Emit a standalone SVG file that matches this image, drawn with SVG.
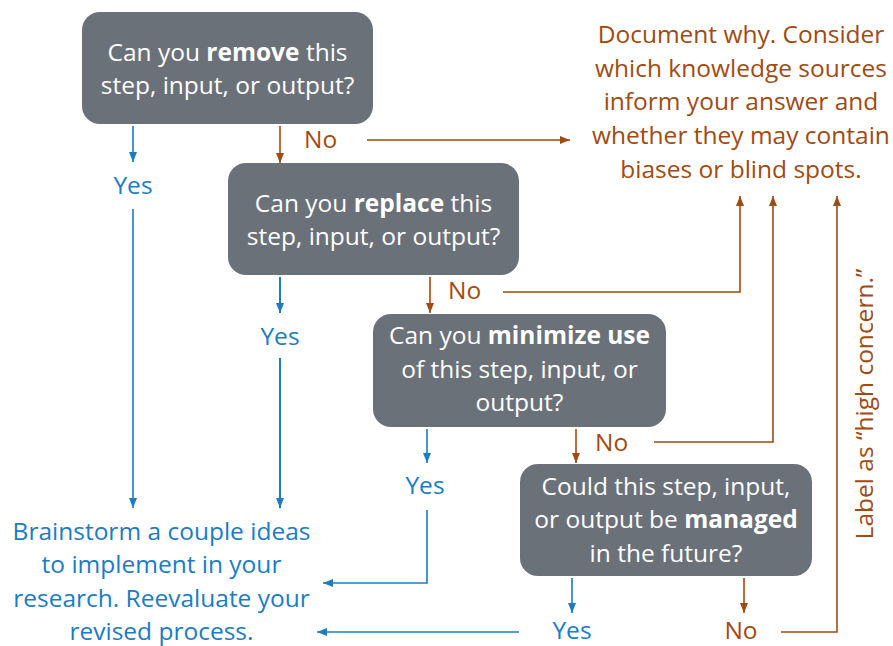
<svg xmlns="http://www.w3.org/2000/svg" width="893" height="646" viewBox="0 0 893 646">
<style>
text{font-family:"Open Sans","Liberation Sans",sans-serif;font-size:24.5px}
.box rect{fill:#6b7179}
.box text{fill:#ffffff;text-anchor:middle}
.b{font-weight:bold}
.br{fill:#a04b12}
.bl{fill:#1c7cc2}
.lb{fill:none;stroke:#a04b12;stroke-width:1.6}
.ll{fill:none;stroke:#1c7cc2;stroke-width:1.6}
.mid{text-anchor:middle}
</style>
<defs>
<marker id="ab" markerUnits="userSpaceOnUse" markerWidth="10" markerHeight="10" viewBox="0 0 10 10" refX="10" refY="5" orient="auto"><path d="M0,1 L10,5 L0,9 Z" fill="#a04b12"/></marker>
<marker id="al" markerUnits="userSpaceOnUse" markerWidth="10" markerHeight="10" viewBox="0 0 10 10" refX="10" refY="5" orient="auto"><path d="M0,1 L10,5 L0,9 Z" fill="#1c7cc2"/></marker>
</defs>

<g id="q1" class="box">
<rect x="82" y="12" width="291" height="112" rx="18"/>
<text x="227.5" y="61">Can you <tspan class="b">remove</tspan> this</text>
<text x="227.5" y="94">step, input, or output?</text>
</g>
<g id="q2" class="box">
<rect x="228" y="163" width="291" height="112" rx="18"/>
<text x="373.5" y="212">Can you <tspan class="b">replace</tspan> this</text>
<text x="373.5" y="245">step, input, or output?</text>
</g>
<g id="q3" class="box">
<rect x="373" y="314" width="293" height="113" rx="18"/>
<text x="519.5" y="344">Can you <tspan class="b">minimize use</tspan></text>
<text x="519.5" y="378">of this step, input, or</text>
<text x="519.5" y="411">output?</text>
</g>
<g id="q4" class="box">
<rect x="520" y="464" width="292" height="112" rx="18"/>
<text x="666" y="495">Could this step, input,</text>
<text x="666" y="528">or output be <tspan class="b">managed</tspan></text>
<text x="666" y="562">in the future?</text>
</g>

<g id="document" class="br mid">
<text x="741" y="43" class="br mid">Document why. Consider</text>
<text x="741" y="77" class="br mid">which knowledge sources</text>
<text x="741" y="110" class="br mid">inform your answer and</text>
<text x="741" y="144" class="br mid">whether they may contain</text>
<text x="741" y="178" class="br mid">biases or blind spots.</text>
</g>
<g id="brainstorm">
<text x="161.5" y="540" class="bl mid">Brainstorm a couple ideas</text>
<text x="161.5" y="573" class="bl mid">to implement in your</text>
<text x="161.5" y="607" class="bl mid">research. Reevaluate your</text>
<text x="161.5" y="640" class="bl mid">revised process.</text>
</g>
<g id="highconcern">
<text transform="translate(873,404) rotate(-90)" class="br mid">Label as “high concern.”</text>
</g>

<g id="connectors">
<path class="ll" d="M133,126 V162" marker-end="url(#al)"/>
<text x="133" y="194" class="bl mid">Yes</text>
<path class="ll" d="M133,209 V508" marker-end="url(#al)"/>

<path class="lb" d="M280,126 V163" marker-end="url(#ab)"/>
<text x="304" y="148" class="br">No</text>
<path class="lb" d="M367,140 H570" marker-end="url(#ab)"/>

<path class="ll" d="M280,277 V313" marker-end="url(#al)" style="stroke-width:2"/>
<text x="280" y="345" class="bl mid">Yes</text>
<path class="ll" d="M280,358 V508" marker-end="url(#al)" style="stroke-width:2"/>

<path class="lb" d="M430,277 V313" marker-end="url(#ab)"/>
<text x="448" y="299" class="br">No</text>
<path class="lb" d="M503,292 H740 V196" marker-end="url(#ab)"/>

<path class="ll" d="M427,429 V463" marker-end="url(#al)"/>
<text x="425" y="494" class="bl mid">Yes</text>
<path class="ll" d="M427,510 V583 H323" marker-end="url(#al)"/>

<path class="lb" d="M576,429 V463" marker-end="url(#ab)"/>
<text x="595" y="451" class="br">No</text>
<path class="lb" d="M654,442 H773 V196" marker-end="url(#ab)"/>

<path class="ll" d="M572,578 V613" marker-end="url(#al)"/>
<text x="572" y="639" class="bl mid">Yes</text>
<path class="ll" d="M519,632 H317" marker-end="url(#al)"/>

<path class="lb" d="M744,578 V613" marker-end="url(#ab)"/>
<text x="741" y="639" class="br mid">No</text>
<path class="lb" d="M781,632 H837 V196" marker-end="url(#ab)"/>
</g>
</svg>
